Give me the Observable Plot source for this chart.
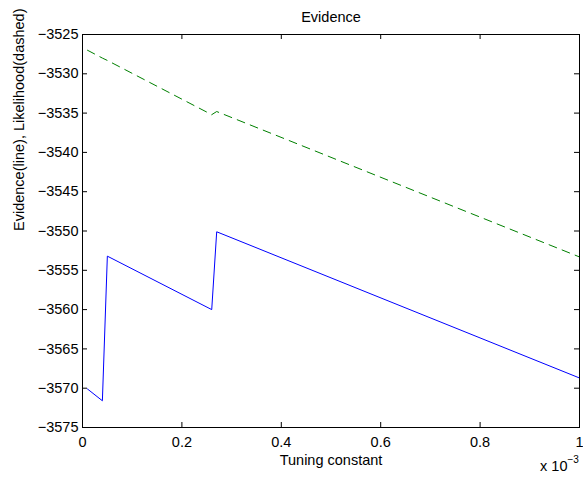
<!DOCTYPE html>
<html><head><meta charset="utf-8">
<script src="https://cdn.jsdelivr.net/npm/d3@7"></script>
<script src="https://cdn.jsdelivr.net/npm/@observablehq/plot@0.6"></script>
<style>html,body{margin:0;padding:0;background:#fff} svg{display:block}</style>
</head><body><div id="chart"></div>
<script>
// Tuning constant (in units of 10^-3)
const tuning = [0.01, 0.04, 0.05, 0.26, 0.27, 1.0];
const evidence = [-3570.1, -3571.6, -3553.2, -3560.0, -3550.1, -3568.7];
const likelihood = [-3527.0, -3528.0, -3528.3, -3535.2, -3534.8, -3553.3];
const xTicks = [0, 0.2, 0.4, 0.6, 0.8, 1];
const yTicks = [-3575, -3570, -3565, -3560, -3555, -3550, -3545, -3540, -3535, -3530, -3525];
const titleText = "Evidence";
const xLabelText = "Tuning constant";
const yLabelText = "Evidence(line), Likelihood(dashed)";
const expBase = "x 10";
const expPower = "\u22123";

const W = 583, H = 477, mL = 82, mR = 4, mT = 34, mB = 50;
const pw = W - mL - mR, ph = H - mT - mB, tk = 5;
const font = "'Liberation Sans', Arial, Helvetica, sans-serif";
const fs = 14.5;

const rows = (ys) => tuning.map((x, i) => ({x, y: ys[i]}));

const chart = Plot.plot({
  width: W, height: H,
  marginLeft: mL, marginRight: mR, marginTop: mT, marginBottom: mB,
  style: {fontFamily: font, fontSize: fs + "px", background: "#fff", color: "#000"},
  x: {domain: [0, 1]},
  y: {domain: [-3575, -3525]},
  marks: [
    Plot.line(rows(likelihood), {x: "x", y: "y", stroke: "#008000", strokeWidth: 1, strokeDasharray: "8,6"}),
    Plot.line(rows(evidence), {x: "x", y: "y", stroke: "#0000ff", strokeWidth: 1}),
    Plot.frame({stroke: "#000", strokeWidth: 1}),
    Plot.tickY(yTicks, {y: d => d, insetRight: pw - tk, stroke: "#000"}),
    Plot.tickY(yTicks, {y: d => d, insetLeft: pw - tk, stroke: "#000"}),
    Plot.tickX(xTicks, {x: d => d, insetTop: ph - tk, stroke: "#000"}),
    Plot.tickX(xTicks, {x: d => d, insetBottom: ph - tk, stroke: "#000"}),
    Plot.axisY({ticks: yTicks, tickSize: 0, tickPadding: 4, label: null, tickFormat: d3.format("d"), fontSize: fs}),
    Plot.axisX({ticks: xTicks, tickSize: 0, tickPadding: 9, label: null, tickFormat: d => String(d), fontSize: fs}),
    Plot.text([titleText], {frameAnchor: "top", dy: -17, lineAnchor: "middle", fontSize: fs}),
    Plot.text([xLabelText], {frameAnchor: "bottom", dy: 32.5, lineAnchor: "middle", fontSize: fs}),
    Plot.text([yLabelText], {frameAnchor: "left", dx: -63, rotate: -90, lineAnchor: "middle", fontSize: fs}),
    Plot.text([expBase], {frameAnchor: "bottom-right", dx: -12, dy: 39, textAnchor: "end", lineAnchor: "middle", fontSize: fs}),
    Plot.text([expPower], {frameAnchor: "bottom-right", dx: -12, dy: 32, textAnchor: "start", lineAnchor: "middle", fontSize: 10})
  ]
});
document.getElementById("chart").append(chart);
</script>
</body></html>
